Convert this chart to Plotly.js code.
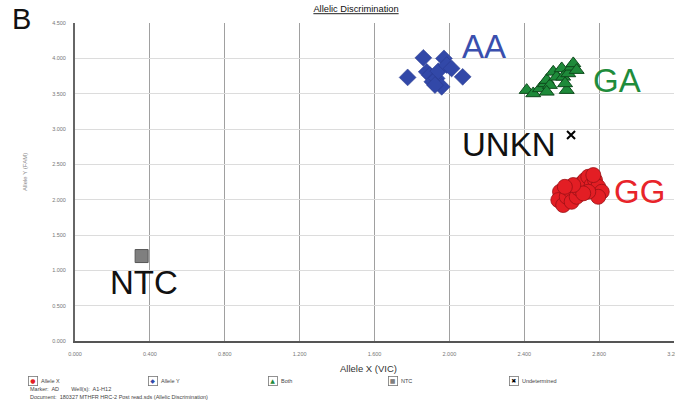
<!DOCTYPE html>
<html>
<head>
<meta charset="utf-8">
<script src="https://cdn.plot.ly/plotly-3.0.1.min.js"></script>
<style>html,body{margin:0;padding:0;background:#fff;}#chart{width:675px;height:404px;}</style>
</head>
<body>
<div id="chart"></div>
<script>
// Allele X (GG cluster)
var ggX = [2.591, 2.582, 2.608, 2.627, 2.644, 2.653, 2.680, 2.689, 2.707, 2.724, 2.742, 2.760, 2.778, 2.795, 2.814, 2.795, 2.742, 2.715, 2.769, 2.662, 2.617];
var ggY = [2.112, 1.994, 1.924, 2.041, 2.136, 1.970, 2.041, 2.160, 2.231, 2.277, 2.324, 2.207, 2.277, 2.182, 2.112, 2.041, 2.112, 2.089, 2.348, 2.207, 2.182];
// Allele Y (AA cluster)
var aaX = [1.777, 1.861, 1.879, 1.896, 1.909, 1.932, 1.941, 1.959, 1.971, 1.986, 2.012, 2.071, 1.923];
var aaY = [3.730, 4.007, 3.809, 3.762, 3.668, 3.716, 3.819, 3.597, 3.999, 3.904, 3.857, 3.738, 3.621];
// Both (GA cluster)
var gaX = [2.413, 2.448, 2.484, 2.511, 2.520, 2.537, 2.555, 2.573, 2.600, 2.608, 2.627, 2.635, 2.653, 2.662, 2.680, 2.618, 2.520];
var gaY = [3.550, 3.503, 3.574, 3.645, 3.692, 3.621, 3.809, 3.738, 3.857, 3.738, 3.550, 3.786, 3.880, 3.928, 3.833, 3.645, 3.526];
// NTC
var ntcX = [0.356];
var ntcY = [1.202];
// Undetermined
var unX = [2.650];
var unY = [2.914];

var xTicks = [0, 0.4, 0.8, 1.2, 1.6, 2.0, 2.4, 2.8, 3.2];
var yTicks = [0, 0.5, 1.0, 1.5, 2.0, 2.5, 3.0, 3.5, 4.0, 4.5];

// cluster labels
var clusterNames = ['AA', 'GA', 'UNKN', 'GG', 'NTC'];
var clusterX = [2.185, 2.895, 2.318, 3.013, 0.369];
var clusterY = [4.166, 3.692, 2.786, 2.122, 0.827];
var clusterColors = ['#3a4fae', '#1f8c3c', '#111111', '#e8242a', '#111111'];

// legend
var legendNames = ['Allele X', 'Allele Y', 'Both', 'NTC', 'Undetermined'];
var legendGlyphs = ['\u25CF', '\u25C6', '\u25B2', '\u25A0', '\u2716'];
var legendColors = ['#e31e24', '#3248a8', '#1e8a3a', '#808080', '#000000'];
var legendPx = [33, 153, 273, 393, 514];

var FONT = 'Liberation Sans, Arial, sans-serif';
var L = 75, R = 674, T = 23, B = 341;
function px2paperX(p){ return (p - L) / (R - L); }
function px2paperY(p){ return (B - p) / (B - T); }

var traces = [
  {x: ggX, y: ggY, type: 'scatter', mode: 'markers', name: 'Allele X',
   marker: {symbol: 'circle', size: 15, color: '#e31e24', line: {color: '#9a1015', width: 0.8}}},
  {x: aaX, y: aaY, type: 'scatter', mode: 'markers', name: 'Allele Y',
   marker: {symbol: 'diamond', size: 13, color: '#3248a8', line: {color: '#28398a', width: 0.5}}},
  {x: gaX, y: gaY, type: 'scatter', mode: 'markers', name: 'Both',
   marker: {symbol: 'triangle-up', size: 13, color: '#1e8a3a', line: {color: '#0e4a1c', width: 1}}},
  {x: ntcX, y: ntcY, type: 'scatter', mode: 'markers', name: 'NTC',
   marker: {symbol: 'square', size: 13, color: '#7f7f7f', line: {color: '#555555', width: 1}}},
  {x: unX, y: unY, type: 'scatter', mode: 'markers', name: 'Undetermined',
   marker: {symbol: 'x-thin', size: 8, color: '#000000', line: {color: '#000000', width: 2}}}
];

var annotations = [];
for (var i = 0; i < clusterNames.length; i++) {
  annotations.push({x: clusterX[i], y: clusterY[i], xref: 'x', yref: 'y', text: clusterNames[i],
    showarrow: false, xanchor: 'center', yanchor: 'middle',
    font: {family: FONT, size: 33, color: clusterColors[i]}});
}
for (var j = 0; j < legendNames.length; j++) {
  annotations.push({x: px2paperX(legendPx[j]), y: px2paperY(381), xref: 'paper', yref: 'paper',
    text: legendGlyphs[j], showarrow: false, xanchor: 'center', yanchor: 'middle',
    bordercolor: '#777', borderwidth: 0.8, borderpad: 0, bgcolor: '#fff', width: 8, height: 8,
    font: {family: 'DejaVu Sans, sans-serif', size: 6, color: legendColors[j]}});
  annotations.push({x: px2paperX(legendPx[j] + 6), y: px2paperY(381), xref: 'paper', yref: 'paper',
    text: legendNames[j], showarrow: false, xanchor: 'left', yanchor: 'middle',
    font: {family: FONT, size: 5.5, color: '#444'}});
}
annotations.push({x: px2paperX(28), y: px2paperY(389), xref: 'paper', yref: 'paper',
  text: 'Marker:  AD        Well(s):  A1-H12', showarrow: false, xanchor: 'left', yanchor: 'middle',
  font: {family: FONT, size: 5.5, color: '#444'}});
annotations.push({x: px2paperX(28), y: px2paperY(397), xref: 'paper', yref: 'paper',
  text: 'Document:  180327 MTHFR HRC-2 Post read.sds (Allelic Discrimination)', showarrow: false, xanchor: 'left', yanchor: 'middle',
  font: {family: FONT, size: 5.5, color: '#444'}});
annotations.push({x: px2paperX(368), y: px2paperY(368), xref: 'paper', yref: 'paper',
  text: 'Allele X (VIC)', showarrow: false, xanchor: 'center', yanchor: 'middle',
  font: {family: FONT, size: 9.5, color: '#333'}});
annotations.push({x: px2paperX(25), y: px2paperY(172), xref: 'paper', yref: 'paper',
  text: 'Allele Y (FAM)', textangle: -90, showarrow: false, xanchor: 'center', yanchor: 'middle',
  font: {family: FONT, size: 6, color: '#888'}});
annotations.push({x: px2paperX(21), y: px2paperY(19), xref: 'paper', yref: 'paper',
  text: 'B', showarrow: false, xanchor: 'center', yanchor: 'middle',
  font: {family: FONT, size: 29, color: '#111'}});

var layout = {
  width: 675, height: 404,
  margin: {l: L, r: 675 - R, t: T, b: 404 - B, pad: 0},
  paper_bgcolor: '#fff', plot_bgcolor: '#fff',
  showlegend: false,
  title: {text: '<u>Allelic Discrimination</u>', xref: 'container', yref: 'container',
    x: 356 / 675, y: 1 - 9 / 404, xanchor: 'center', yanchor: 'middle',
    font: {family: FONT, size: 9.3, color: '#111'}},
  xaxis: {range: [0, 3.2], tickvals: xTicks, tickformat: '.3f', showgrid: true,
    gridcolor: '#a0a0a0', gridwidth: 1, zeroline: false, showline: true, linecolor: '#555', linewidth: 2,
    ticks: '', ticklabelstandoff: 6, ticklabeloverflow: 'allow',
    tickfont: {family: FONT, size: 5.5, color: '#777'}, fixedrange: true},
  yaxis: {range: [0, 4.5], tickvals: yTicks, tickformat: '.3f', showgrid: true,
    gridcolor: '#dcdcdc', gridwidth: 1, zeroline: false, showline: true, linecolor: '#666', linewidth: 2,
    ticks: '', ticklabelstandoff: 6, ticklabeloverflow: 'allow',
    tickfont: {family: FONT, size: 5.5, color: '#777'}, fixedrange: true},
  annotations: annotations
};

Plotly.newPlot('chart', traces, layout, {displayModeBar: false, staticPlot: true});
</script>
</body>
</html>
